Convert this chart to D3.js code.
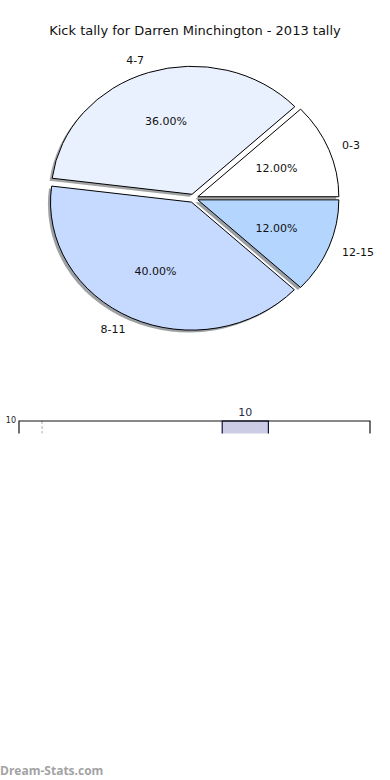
<!DOCTYPE html>
<html>
<head>
<meta charset="utf-8">
<script src="https://cdn.jsdelivr.net/npm/d3@7"></script>
<style>
	body { margin: 0; background: #fff; }
	svg { display: block; font-family: "DejaVu Sans", sans-serif; }
</style>
</head>
<body>
<svg id="chart" width="390" height="780"></svg>
<script>
// kick ranges and how many games fell in each
const categories = ["0-3", "4-7", "8-11", "12-15"];
const counts = [3, 9, 10, 3];
const sliceColors = ["#ffffff", "#eaf1fe", "#c6d9fe", "#b4d5fe"];

// the (cropped) bar chart under the pie
const barSeasons = [4.9];
const barValues = [10];
const barTicks = [10];
const refLine = [0.5];

const svg = d3.select("#chart");
const cx = 193.5, cy = 198.3, rx = 141, ry = 128;
const explode = 0.033;

svg.append("text")
	.attr("x", 195).attr("y", 35)
	.attr("text-anchor", "middle")
	.attr("font-size", 13)
	.attr("fill", "#111")
	.text("Kick tally for Darren Minchington - 2013 tally");

// matplotlib style: start at 3 o'clock, go counter-clockwise
let pie = d3.pie().sort(null).startAngle(Math.PI / 2).endAngle(Math.PI / 2 - 2 * Math.PI);
let slices = pie(counts);
let total = d3.sum(counts);
let arc = d3.arc().innerRadius(0).outerRadius(ry);

function midAngle(d) {
	// back to maths angle (0 = right, ccw)
	return Math.PI / 2 - (d.startAngle + d.endAngle) / 2;
}
function centreOf(d) {
	let a = midAngle(d);
	return [cx + explode * rx * Math.cos(a), cy - explode * ry * Math.sin(a)];
}
function pointAt(d, f) {
	let a = midAngle(d);
	let c = centreOf(d);
	return [c[0] + f * rx * Math.cos(a), c[1] - f * ry * Math.sin(a)];
}

let shadowG = svg.append("g");
shadowG.selectAll("path")
	.data(slices)
	.enter()
	.append("path")
	.attr("transform", function(d) {
		let c = centreOf(d);
		return "translate(" + (c[0] - 2.6) + "," + (c[1] + 2.4) + ") scale(" + (rx / ry) + ",1)";
	})
	.attr("d", arc)
	.attr("fill", function(d, i) {
		let c = d3.rgb(sliceColors[i]);
		return d3.rgb(c.r * 0.3, c.g * 0.3, c.b * 0.3);
	})
	.attr("fill-opacity", 0.5);

let wedgeG = svg.append("g");
wedgeG.selectAll("path")
	.data(slices)
	.enter()
	.append("path")
	.attr("transform", function(d) {
		let c = centreOf(d);
		return "translate(" + c[0] + "," + c[1] + ") scale(" + (rx / ry) + ",1)";
	})
	.attr("d", arc)
	.attr("fill", function(d, i) { return sliceColors[i]; })
	.attr("stroke", "#000")
	.attr("stroke-width", 1)
	.attr("vector-effect", "non-scaling-stroke")
	.attr("stroke-linejoin", "miter");

svg.append("g").selectAll("text")
	.data(slices)
	.enter()
	.append("text")
	.attr("x", function(d) { return pointAt(d, 1.1)[0]; })
	.attr("y", function(d) { return pointAt(d, 1.1)[1]; })
	.attr("dy", "0.35em")
	.attr("text-anchor", function(d) { return Math.cos(midAngle(d)) >= 0 ? "start" : "end"; })
	.attr("font-size", 11)
	.attr("fill", "#111")
	.text(function(d, i) { return categories[i]; });

svg.append("g").selectAll("text")
	.data(slices)
	.enter()
	.append("text")
	.attr("x", function(d) { return pointAt(d, 0.6)[0]; })
	.attr("y", function(d) { return pointAt(d, 0.6)[1]; })
	.attr("dy", "0.35em")
	.attr("text-anchor", "middle")
	.attr("font-size", 11)
	.attr("fill", "#111")
	.text(function(d) { return (d.value / total * 100).toFixed(2) + "%"; });

// bar chart, only its top strip is visible
let plotLeft = 19, plotRight = 370, plotTop = 421, plotBottom = 700;
let x = d3.scaleLinear().domain([0, 7.6]).range([plotLeft, plotRight]);
let y = d3.scaleLinear().domain([0, 10]).range([plotBottom, plotTop]);

svg.append("clipPath").attr("id", "barClip")
	.append("rect").attr("x", 0).attr("y", 400).attr("width", 390).attr("height", 33.5);

let barG = svg.append("g").attr("clip-path", "url(#barClip)");

barG.selectAll(".ref")
	.data(refLine)
	.enter()
	.append("line")
	.attr("x1", function(d) { return x(d); })
	.attr("x2", function(d) { return x(d); })
	.attr("y1", plotTop)
	.attr("y2", plotBottom)
	.attr("stroke", "#c8c8c8")
	.attr("stroke-width", 1.5)
	.attr("stroke-dasharray", "3,2");

barG.selectAll(".bar")
	.data(barValues)
	.enter()
	.append("rect")
	.attr("x", function(d, i) { return x(barSeasons[i] - 0.5); })
	.attr("y", function(d) { return y(d); })
	.attr("width", function(d, i) { return x(barSeasons[i] + 0.5) - x(barSeasons[i] - 0.5); })
	.attr("height", function(d) { return plotBottom - y(d); })
	.attr("fill", "#ccccE4")
	.attr("stroke", "#14143c")
	.attr("stroke-width", 1.2);

barG.append("path")
	.attr("d", "M" + plotLeft + "," + plotBottom + "V" + plotTop + "H" + plotRight + "V" + plotBottom)
	.attr("fill", "none")
	.attr("stroke", "#111")
	.attr("stroke-width", 1.2);

svg.selectAll(".barLabel")
	.data(barValues)
	.enter()
	.append("text")
	.attr("x", function(d, i) { return x(barSeasons[i]); })
	.attr("y", function(d) { return y(d) - 5; })
	.attr("text-anchor", "middle")
	.attr("font-size", 11)
	.attr("fill", "#2a2a4a")
	.text(function(d) { return d; });

svg.selectAll(".ytick")
	.data(barTicks)
	.enter()
	.append("text")
	.attr("x", plotLeft - 3)
	.attr("y", function(d) { return y(d); })
	.attr("dy", "0.3em")
	.attr("text-anchor", "end")
	.attr("font-size", 8)
	.attr("fill", "#222")
	.text(function(d) { return d; });

svg.append("text")
	.attr("x", 0).attr("y", 775)
	.attr("font-family", "'Open Sans', sans-serif")
	.attr("font-weight", "bold")
	.attr("font-size", 12)
	.attr("fill", "#a3a3a3")
	.text("Dream-Stats.com");
</script>
</body>
</html>
